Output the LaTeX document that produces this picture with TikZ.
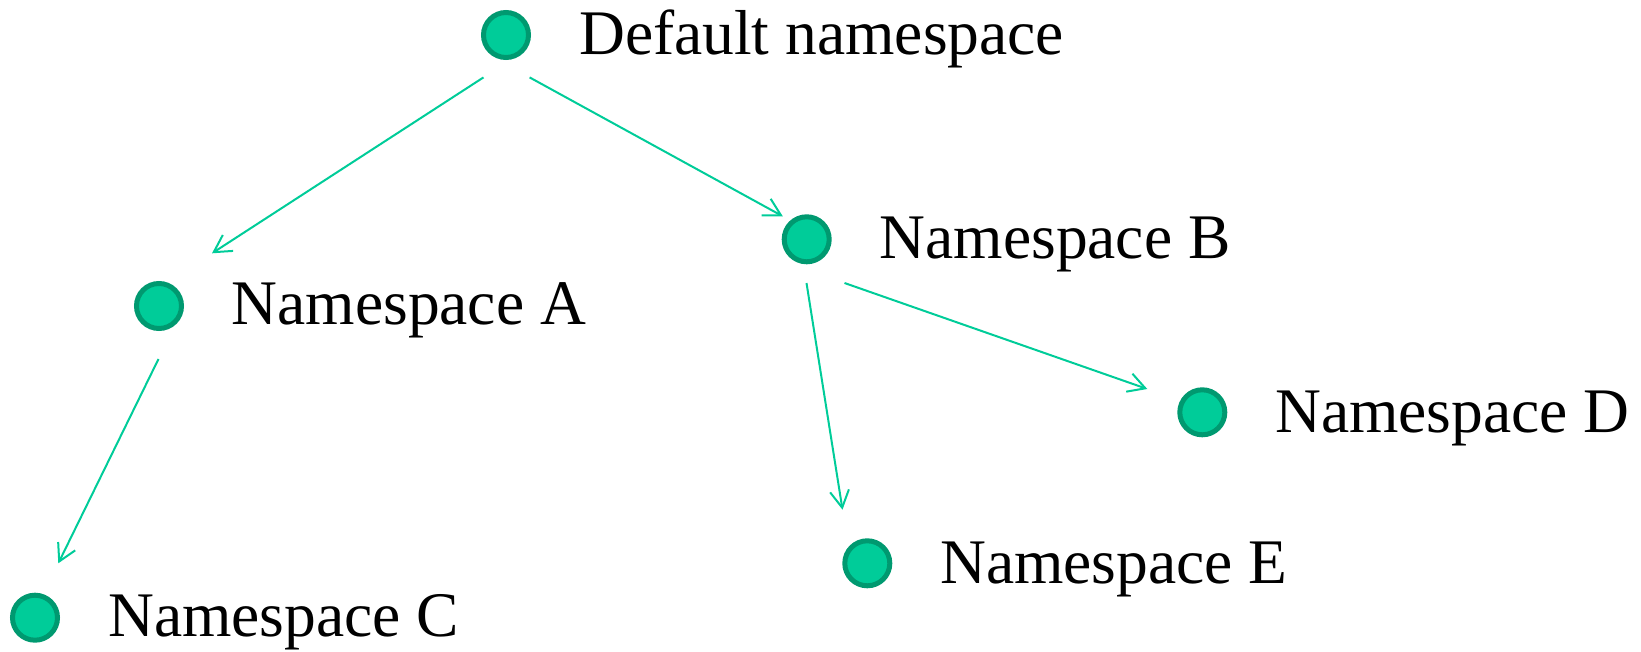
\documentclass[tikz,border=0pt]{standalone}
\usepackage{fontspec}
\setmainfont{Liberation Serif}
\usetikzlibrary{arrows.meta}
\definecolor{nsfill}{RGB}{0,204,153}
\definecolor{nsborder}{RGB}{0,153,112}
\definecolor{nsline}{RGB}{0,204,153}
\tikzset{
  nsdot/.style={circle, fill=nsfill, draw=nsborder, line width=5pt, minimum size=45pt, inner sep=0pt},
  nslabel/.style={anchor=base west, inner sep=0pt, font=\fontsize{63.5pt}{76pt}\selectfont},
  nsarrow/.style={draw=nsline, line width=2pt, -{Straight Barb[length=17pt,width=19pt]}}
}
\begin{document}
\begin{tikzpicture}[x=1pt,y=-1pt]
\useasboundingbox (0,0) rectangle (1641,652);
% dots
\node[nsdot] (def) at (506,35) {};
\node[nsdot] (b) at (806.7,239.3) {};
\node[nsdot] (a) at (159,306) {};
\node[nsdot] (d) at (1202.3,412.3) {};
\node[nsdot] (e) at (867.3,563.3) {};
\node[nsdot] (c) at (35,617.7) {};
% labels
\node[nslabel] (defl) at (579,54.5) {Default namespace};
\node[nslabel] (bl) at (879.5,259) {Namespace B};
\node[nslabel] (al) at (231.5,324.5) {Namespace A};
\node[nslabel] (dl) at (1275,432.3) {Namespace D};
\node[nslabel] (el) at (940,583.3) {Namespace E};
\node[nslabel] (cl) at (108,636.7) {Namespace C};
% connectors
\draw[nsarrow] ([shift={(-22.5,42.4)}]def.center) -- ([shift={(53,-52.7)}]a.center);
\draw[nsarrow] ([shift={(23.6,42.4)}]def.center) -- ([shift={(-23.9,-23)}]b.center);
\draw[nsarrow] ([shift={(-0.5,53)}]a.center) -- ([shift={(23.3,-54.4)}]c.center);
\draw[nsarrow] ([shift={(-0.2,43.7)}]b.center) -- ([shift={(-24.8,-53.6)}]e.center);
\draw[nsarrow] ([shift={(37.8,43.7)}]b.center) -- ([shift={(-55,-23.3)}]d.center);
\end{tikzpicture}
\end{document}
